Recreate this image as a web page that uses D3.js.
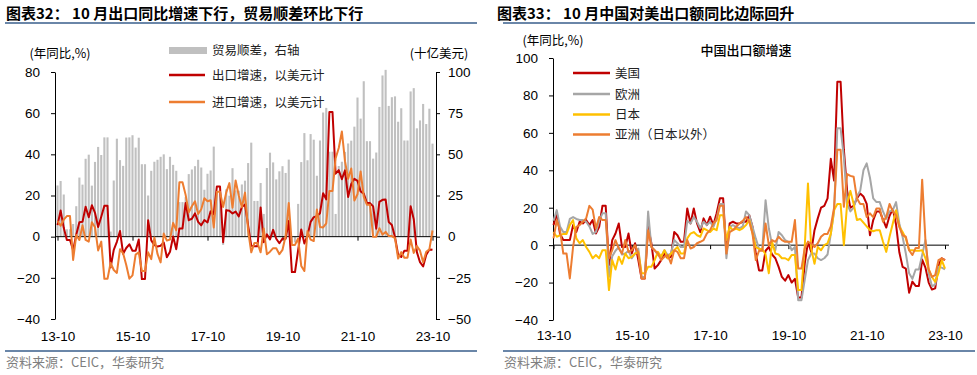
<!DOCTYPE html>
<html><head><meta charset="utf-8">
<script src="https://cdn.jsdelivr.net/npm/d3@7"></script>
<style>
body{margin:0;background:#fff;}
</style></head><body>
<svg id="c" width="977" height="375" xmlns="http://www.w3.org/2000/svg"></svg>
<script>
// ---------- DATA ----------
const months = d3.timeMonth.range(new Date(2013,9,1), new Date(2023,10,1)).map(d3.timeFormat("%y-%m"));
const xTickLabels = ["13-10","15-10","17-10","19-10","21-10","23-10"];
const xTickMonths = ["13-10","15-10","17-10","19-10","21-10","23-10"];
const leftTicks = [80,60,40,20,0,-20,-40];
const rightTicks = [100,75,50,25,0,-25,-50];
const r2Ticks = [100,80,60,40,20,0,-20,-40];

// Chart 32: trade balance (bn USD, right axis), export & import YoY (%)
const tradeBalance = [31.1,33.8,25.6,
4.5,4.5,7.7,18.5,35.9,31.6,47.3,49.8,31.0,45.4,54.5,49.6,
60.3,60.3,3.1,34.1,59.5,46.5,43.0,60.2,60.3,61.6,54.1,60.1,
44,44,25,40,45.5,46.7,48.5,50,41,48.5,43.6,40,
21,21,24.0,38.0,40.8,42.8,46.7,42.0,28.5,38.2,40.2,54.7,
27,27,-5.0,28.8,24.9,41.6,28.1,27.9,31.7,34.0,44.7,57.1,
21.7,21.7,32.6,13.8,41.7,51.0,45.1,34.8,39.7,42.8,38.7,46.8,
-3.5,-3.5,19.9,45.3,62.9,46.4,62.3,58.9,37.0,58.4,75.4,78.2,
51.6,51.6,13.8,42.9,45.5,51.5,56.6,58.3,66.8,84.5,71.7,94.4,
58,58,47.4,51.1,78.8,97.9,101.3,79.4,84.7,85.2,69.8,78.0,
58.4,58.4,88.2,90.2,65.8,70.6,80.6,68.4,77.7,56.5];
const exportYoY = [5.6,12.7,4.3,
-1.6,-1.6,-6.6,0.9,7.0,7.2,14.5,9.4,15.3,11.6,4.7,9.7,
15.0,15.0,-15.0,-6.4,-2.5,2.8,-8.3,-5.5,-3.7,-6.9,-6.8,-1.4,
-20.6,-20.6,8.0,-1.8,-4.1,-4.8,-4.4,-2.8,-10.0,-7.3,0.1,-6.1,
4.0,4.0,16.4,8.0,8.7,11.3,7.2,5.5,8.1,6.9,12.3,10.9,
24.4,24.4,-2.7,12.9,12.6,11.3,12.2,9.8,14.5,15.6,5.4,-4.4,
-4.6,-4.6,14.2,-2.7,1.1,-1.3,3.3,-1.0,-3.2,-0.9,-1.1,7.6,
-17.2,-17.2,-6.6,3.5,-3.3,0.5,7.2,9.5,9.9,11.4,21.1,18.1,
60.6,60.6,30.6,32.3,27.9,32.2,19.3,25.6,28.1,27.1,22.0,20.9,
16.3,16.3,14.7,3.9,16.9,17.9,18.0,7.1,5.7,-0.3,-8.7,-9.9,
-6.8,-6.8,14.8,8.5,-7.5,-12.4,-14.5,-8.8,-6.2,-6.4];
const importYoY = [7.6,5.3,8.3,
10.0,10.0,-11.3,0.8,-1.6,5.5,-1.6,-2.4,7.0,4.6,-6.7,-2.4,
-20.5,-20.5,-12.7,-16.2,-17.6,-6.1,-8.1,-13.8,-20.4,-18.8,-8.7,-7.6,
-16.7,-16.7,-7.6,-10.9,-0.4,-8.4,-12.5,1.5,-1.9,-1.4,6.7,3.1,
26.4,26.4,20.3,11.9,14.8,17.2,11.0,13.3,18.7,17.2,17.7,4.5,
21.8,21.8,14.4,21.5,26.0,14.1,27.3,20.0,14.3,21.4,3.0,-7.6,
-3.1,-3.1,-7.6,4.0,-8.5,-7.3,-5.6,-5.6,-8.5,-6.4,0.3,16.3,
-4.0,-4.0,-0.9,-14.2,-16.7,2.7,-1.4,-2.1,13.2,4.7,4.5,6.5,
22.2,22.2,38.1,43.1,51.1,36.7,28.1,33.1,17.6,20.6,31.7,19.5,
15.5,15.5,-0.1,0.0,4.1,1.0,2.3,0.3,0.3,-0.7,-10.6,-7.5,
-10.2,-10.2,-1.4,-7.9,-4.5,-6.8,-12.4,-7.3,-6.2,3.0];

// Chart 33: China export YoY by destination (%)
const usYoY = [10.7,17,6,
2.7,2.7,2.7,10.7,7,12.5,11.6,13.4,10.7,13.4,6.2,9.8,
21,21,-10.7,2.7,6.2,11.6,-1,-1,6.2,-4.5,1,-8,
-17.8,-17.8,10,1,-12.5,-10.7,-8,-4.5,-7,-6.2,7,5.3,
1.8,1.8,19.6,11.6,19.6,11.6,7,14.3,10.7,15.2,10.7,17,
25,25,-4.5,11.6,12.5,11.6,11.6,12.5,12.5,16,9.8,-4.5,
-13.5,-13.5,-3,-1,-5,-7,-11.6,-17,-19,-16,-20,-18,
-28,-28,-10,1.8,-3.6,8,14.3,20,21,25,46.1,34.5,
87.3,87.3,51,29,20,21,25,27.6,26,22,5.3,13.4,
18,18,13.7,9.4,15.7,19.3,11,-3.8,-11.6,-12.6,-25.4,-19.5,
-21.8,-21.8,-7.7,-12,-20,-23.7,-23.1,-11,-7,-8];
const euYoY = [13,18.7,10,
7,7,14,15,14,13.4,13.4,12.5,10,6,7,13,
17,17,-17,-6,-3,-1,-5,-4.5,-3,-7,-4.5,-1.8,
-17,-17,18,-1,-2.7,-5.3,-6.2,-2.7,-5.3,-4.5,2.7,1,
-1,-1,13,11.6,15,12.5,9,12.5,10.7,12.5,9.8,14.3,
22,22,-7,9.8,10.7,9.8,9,10,18,16,9.8,3.6,
-2,-2,24,9,0,-2.7,7,5.3,2.7,1.8,-2.7,-1,
-29.4,-29.4,-18.7,-8,-4.5,-4.5,-7,-8,-7,-5,6,18,
62.4,62.4,47,22,18,20,26,29,40,43.7,36,25,
23,23,18,14,18,18.7,23,11.6,4.5,-4.5,-15,-18,
-13,-13,-5.3,2.7,-15,-22,-21,-11.6,-12,-13];
const japanYoY = [7,4.5,5.3,
6,6,10.7,13.4,3.6,1,2.7,-1,-3.6,-7,-5.3,-7,
-2.7,-2.7,-24,-8,-13,-6.2,-10,-4.5,-7,-6.2,-4.5,-3.6,
-15,-15,-11.6,-11.6,-8,-3.6,-6.2,-2.7,-7,-4.5,-2.7,-1,
-4.5,-4.5,3.6,6.2,7,5.3,4.5,8.9,8,7,8.9,8,
16,16,2.7,9.8,8,8.9,8,9,10.7,13.4,6.2,-1,
-2,-2,-5,-15,1.8,-4.5,-5,-7,-7,-8,-5.3,-5.3,
-24,-24,-1,33,-2,-10,-1,-2.7,0,1,6,18.7,
22,22,0,22,29,22,13.4,14,12,10,8,7.4,
8,8,1.8,-3.6,4.5,11.6,18.7,10,7,3.6,-2.7,-2.7,
-3,-3,-2.7,-7,-13,-17,-19.6,-15,-8,-12.5];
const asiaYoY = [3.6,13.4,8,
-4.5,-4.5,-17.8,-1,9.8,10.7,12.5,14.3,21,19,9,15,
13.4,13.4,-7,-2.7,2.7,-1.8,-4.5,2.7,-3.6,-2.7,0,-4.5,
-17.8,-17.8,8,-1,-2.7,-4.5,-8,-6.2,-5.3,-9.8,-2.7,-3.6,
-7,-7,2.7,-1.8,-1,1,1.8,2.7,6.2,8,11.6,13.4,
21,21,-4.5,7,8,9.8,11.6,13,15,12.5,6.2,-8,
-3,-3,11.6,0,2.7,1.8,4.5,2.7,1.8,1.8,1.8,13.4,
-12.5,-12.5,-1.8,1.8,0.9,-1,1,4.5,6,6,10,20,
51,51,20.5,38,37,36.5,25,22,22,15,17,15,
19.6,19.6,12.5,15,22,18,16,9.8,5.3,4.5,-2.7,-5.3,
-1.5,-1.5,35,2.7,-13,-17,-16,-8,-7,-8];

// ---------- STYLE ----------
const CJK = '"Noto Sans CJK SC", "Noto Sans", sans-serif';
const LAT = '"Liberation Sans", Arial, sans-serif';
const RED = "#c00000", ORANGE = "#ed7d31", GRAY = "#a6a6a6", YELLOW = "#ffc000", BAR = "#c0c0c0";
const RULE = "#6a86a8";

const svg = d3.select("#c");
svg.append("rect").attr("width",977).attr("height",375).attr("fill","#fff");

function txt(x,y,s,opt={}) {
  return svg.append("text").attr("x",x).attr("y",y)
    .attr("font-family", opt.ff || CJK).attr("font-size", opt.fs || 12.5)
    .attr("font-weight", opt.fw || "normal").attr("fill", opt.fill || "#000")
    .attr("text-anchor", opt.anchor || "start").text(s);
}
function styleAxis(g, fs) {
  g.attr("font-family", LAT).attr("font-size", fs).attr("fill","#000");
  g.selectAll("text").attr("fill","#000");
  g.selectAll("line,path").attr("stroke","#000").attr("stroke-width",1);
}

// ---------- Headers / footers ----------
txt(6,19,"图表32：  10 月出口同比增速下行，贸易顺差环比下行",{fs:15,fw:"bold"});
txt(497,19,"图表33：  10 月中国对美出口额同比边际回升",{fs:15,fw:"bold"});
svg.append("rect").attr("x",5).attr("y",22).attr("width",472).attr("height",2).attr("fill",RULE);
svg.append("rect").attr("x",503).attr("y",22).attr("width",472).attr("height",2).attr("fill",RULE);
svg.append("rect").attr("x",5).attr("y",350).attr("width",472).attr("height",2).attr("fill",RULE);
svg.append("rect").attr("x",503).attr("y",350).attr("width",472).attr("height",2).attr("fill",RULE);
txt(6,367,"资料来源：CEIC，华泰研究",{fs:13,fill:"#7f7f7f"});
txt(504,367,"资料来源：CEIC，华泰研究",{fs:13,fill:"#7f7f7f"});

// ---------- LEFT CHART ----------
const xL = d3.scaleLinear([0,120],[57.5,432.5]);
const yL = d3.scaleLinear([-40,80],[319,72]);
const yR = d3.scaleLinear([-50,100],[319,72]);
const idxOf = m => months.indexOf(m);

svg.append("g").selectAll("rect").data(tradeBalance).join("rect")
  .attr("x",(d,i)=>xL(i)-1.05).attr("width",2.1)
  .attr("y",d=>yR(Math.max(0,d))).attr("height",d=>Math.abs(yR(d)-yR(0)))
  .attr("fill",BAR);

const gL = svg.append("g").attr("transform","translate(55,0)")
  .call(d3.axisLeft(yL).tickValues(leftTicks).tickSize(4).tickSizeOuter(0).tickPadding(11));
styleAxis(gL,13.5);
const gR = svg.append("g").attr("transform","translate(436,0)")
  .call(d3.axisRight(yR).tickValues(rightTicks).tickSize(4).tickSizeOuter(0).tickPadding(8));
styleAxis(gR,13.5);
svg.append("line").attr("x1",55).attr("x2",436).attr("y1",yL(0)).attr("y2",yL(0)).attr("stroke","#000");
const gXt = svg.append("g").attr("transform",`translate(0,${yL(0)})`)
  .call(d3.axisBottom(xL).tickValues(xTickMonths.map(idxOf)).tickSize(4).tickFormat(""));
gXt.select(".domain").remove(); styleAxis(gXt,13.5);
const gXl = svg.append("g").attr("transform","translate(0,331)")
  .call(d3.axisBottom(xL).tickValues(xTickMonths.map(idxOf)).tickSize(0).tickPadding(0).tickFormat((d,i)=>xTickLabels[i]));
gXl.select(".domain").remove(); styleAxis(gXl,13.5);

const lineL = d3.line().x((d,i)=>xL(i)).y(d=>yL(d));
svg.append("path").datum(exportYoY).attr("d",lineL).attr("fill","none").attr("stroke",RED).attr("stroke-width",2).attr("stroke-linejoin","round");
svg.append("path").datum(importYoY).attr("d",lineL).attr("fill","none").attr("stroke",ORANGE).attr("stroke-width",2).attr("stroke-linejoin","round");

txt(60,58,"(年同比,%)",{fs:12.5,anchor:"middle"});
txt(439,58,"(十亿美元)",{fs:12.5,anchor:"middle"});
svg.append("rect").attr("x",169).attr("y",47).attr("width",38).attr("height",7).attr("fill",BAR);
txt(212,55,"贸易顺差，右轴",{fs:12.5,fill:"#222"});
svg.append("line").attr("x1",169).attr("x2",205).attr("y1",75).attr("y2",75).attr("stroke",RED).attr("stroke-width",2.5);
txt(212,80,"出口增速，以美元计",{fs:12.5,fill:"#222"});
svg.append("line").attr("x1",169).attr("x2",205).attr("y1",102).attr("y2",102).attr("stroke",ORANGE).attr("stroke-width",2.5);
txt(212,107,"进口增速，以美元计",{fs:12.5,fill:"#222"});

// ---------- RIGHT CHART ----------
const x2 = d3.scaleLinear([0,120],[553.5,945]);
const y2 = d3.scaleLinear([-40,100],[320,58]);
const g2 = svg.append("g").attr("transform","translate(553,0)")
  .call(d3.axisLeft(y2).tickValues(r2Ticks).tickSize(4).tickSizeOuter(0).tickPadding(11));
styleAxis(g2,13.5);
svg.append("line").attr("x1",553).attr("x2",949).attr("y1",y2(0)).attr("y2",y2(0)).attr("stroke","#000");
const g2t = svg.append("g").attr("transform",`translate(0,${y2(0)})`)
  .call(d3.axisBottom(x2).tickValues(xTickMonths.map(idxOf)).tickSize(4).tickFormat(""));
g2t.select(".domain").remove(); styleAxis(g2t,13.5);
const g2l = svg.append("g").attr("transform","translate(0,330)")
  .call(d3.axisBottom(x2).tickValues(xTickMonths.map(idxOf)).tickSize(0).tickPadding(0).tickFormat((d,i)=>xTickLabels[i]));
g2l.select(".domain").remove(); styleAxis(g2l,13.5);

const line2 = d3.line().x((d,i)=>x2(i)).y(d=>y2(d));
const series2 = [
  {name:"美国", data:usYoY, color:RED},
  {name:"欧洲", data:euYoY, color:GRAY},
  {name:"日本", data:japanYoY, color:YELLOW},
  {name:"亚洲（日本以外）", data:asiaYoY, color:ORANGE}
];
series2.forEach(s=>{
  svg.append("path").datum(s.data).attr("d",line2).attr("fill","none")
    .attr("stroke",s.color).attr("stroke-width",2).attr("stroke-linejoin","round");
});
txt(553,45,"(年同比,%)",{fs:12.5,anchor:"middle"});
txt(746,55,"中国出口额增速",{fs:13,anchor:"middle",fw:"500"});
const legY = [73,94,114.5,134.5];
series2.forEach((s,i)=>{
  svg.append("line").attr("x1",573).attr("x2",610).attr("y1",legY[i]).attr("y2",legY[i]).attr("stroke",s.color).attr("stroke-width",2.5);
  txt(615,legY[i]+4.5,s.name,{fs:12.5,fill:"#222"});
});
</script>
</body></html>
